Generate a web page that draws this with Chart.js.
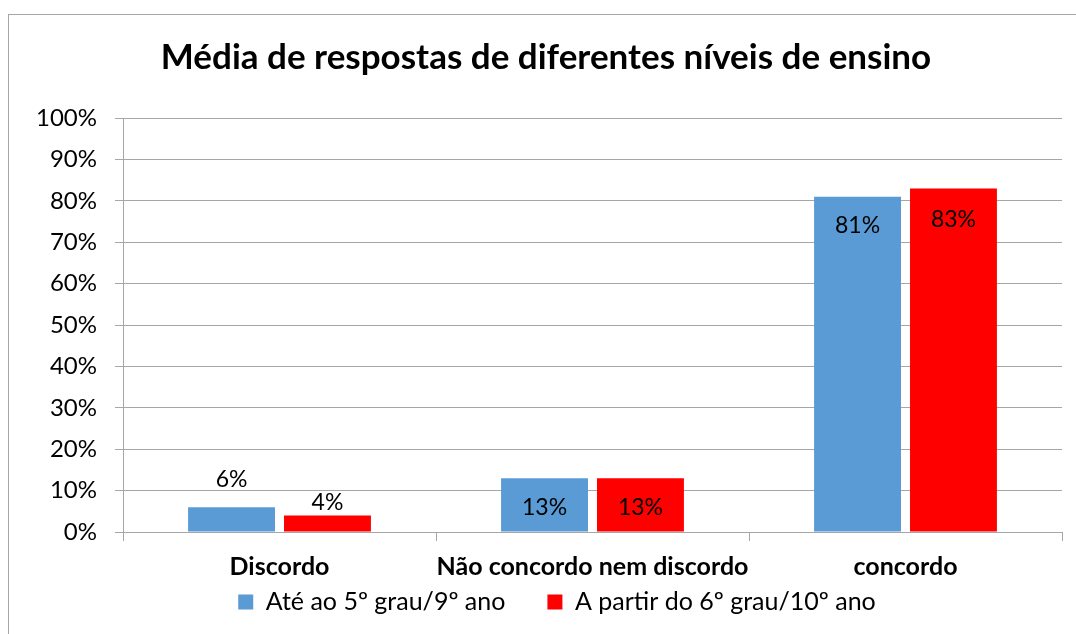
<!DOCTYPE html>
<html>
<head>
<meta charset="utf-8">
<script src="https://cdn.jsdelivr.net/npm/chart.js@4"></script>
<style>
  html, body { margin: 0; padding: 0; background: #fff; }
  #wrap { position: relative; width: 1076px; height: 634px; overflow: hidden; }
  #frame { position: absolute; left: 8px; top: 14px; width: 1200px; height: 800px;
           border: 1px solid #a6a6a6; pointer-events: none; }
</style>
</head>
<body>
<div id="wrap">
  <canvas id="myChart" width="1076" height="634"></canvas>
  <div id="frame"></div>
</div>
<script>
// data
const categories = ['Discordo', 'Não concordo nem discordo', 'concordo'];
const seriesNames = ['Até ao 5º grau/9º ano', 'A partir do 6º grau/10º ano'];
const ateAo5 = [6, 13, 81];
const aPartirDo6 = [4, 13, 83];
const yTicks = [0, 10, 20, 30, 40, 50, 60, 70, 80, 90, 100];

const FONT = 'Lato, "Open Sans", sans-serif';
const gridGrey = '#a6a6a6';

// label offset from the top of each bar (negative = above the bar)
const labelShift = [[-28, 29, 29], [-13, 29, 31]];

const barLabels = {
  id: 'barLabels',
  afterLayout(chart) {
    // let the category labels draw below the thin x axis box
    const x = chart.scales.x;
    x.bottom = x.top + 60;
    x.height = 60;
    // nudge legend to the right
    chart.legend.left += 11;
    chart.legend.right += 11;
  },
  afterDatasetsDraw(chart) {
    const ctx = chart.ctx;
    ctx.save();
    ctx.font = '23px ' + FONT;
    ctx.fillStyle = '#000';
    ctx.textAlign = 'center';
    ctx.textBaseline = 'middle';
    chart.data.datasets.forEach((ds, i) => {
      chart.getDatasetMeta(i).data.forEach((bar, j) => {
        ctx.fillText(ds.data[j] + '%', bar.x, bar.y + labelShift[i][j]);
      });
    });
    ctx.restore();
  }
};

const ctx = document.getElementById('myChart').getContext('2d');
const myChart = new Chart(ctx, {
  type: 'bar',
  data: {
    labels: categories,
    datasets: [{
      label: seriesNames[0],
      data: ateAo5,
      backgroundColor: '#5b9bd5',
      categoryPercentage: 0.613,
      barPercentage: 0.906
    }, {
      label: seriesNames[1],
      data: aPartirDo6,
      backgroundColor: '#ff0000',
      categoryPercentage: 0.613,
      barPercentage: 0.906
    }]
  },
  options: {
    responsive: false,
    animation: false,
    devicePixelRatio: 1,
    layout: { padding: { left: 30, right: 14, top: 0, bottom: 9.5 } },
    plugins: {
      title: {
        display: true,
        text: 'Média de respostas de diferentes níveis de ensino',
        color: '#000',
        font: { family: FONT, size: 35, weight: 'bold', lineHeight: 1.2 },
        padding: { top: 37, bottom: 39 }
      },
      legend: {
        position: 'bottom',
        labels: {
          color: '#000',
          font: { family: FONT, size: 25 },
          boxWidth: 15,
          boxHeight: 15,
          padding: 42
        }
      },
      tooltip: { enabled: false }
    },
    scales: {
      x: {
        grid: { drawOnChartArea: false, drawTicks: true, tickLength: 9, color: gridGrey, offset: true },
        border: { display: true, color: gridGrey },
        ticks: {
          color: '#000',
          padding: 11,
          maxRotation: 0,
          minRotation: 0,
          autoSkip: false,
          font: { family: FONT, size: 25, weight: 'bold' }
        },
        afterFit(scale) { scale.height = 15.5; }
      },
      y: {
        min: 0,
        max: 100,
        afterBuildTicks(scale) { scale.ticks = yTicks.map(v => ({ value: v })); },
        grid: { color: gridGrey, tickLength: 8 },
        border: { display: true, color: gridGrey },
        ticks: {
          color: '#000',
          padding: 18,
          font: { family: FONT, size: 24 },
          callback: v => v + '%'
        },
        afterFit(scale) { scale.width = 93; }
      }
    }
  },
  plugins: [barLabels]
});
</script>
</body>
</html>
